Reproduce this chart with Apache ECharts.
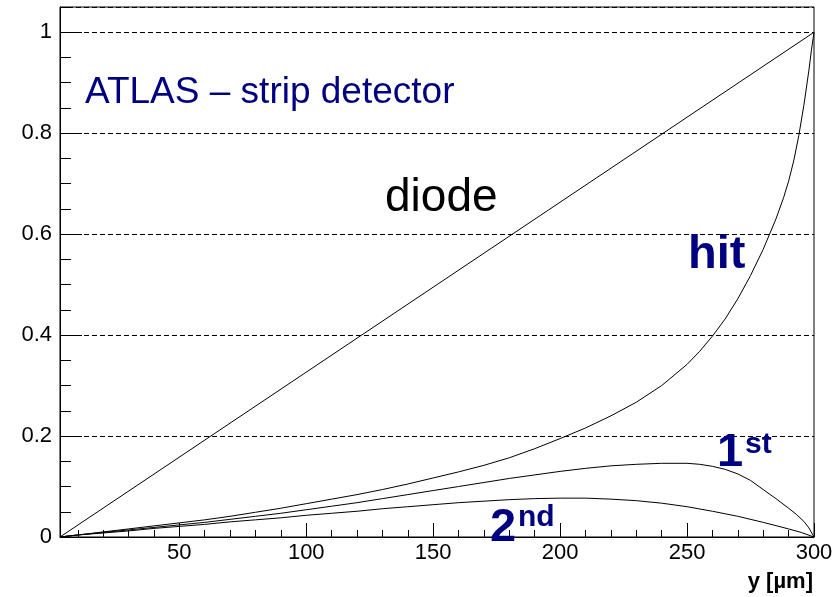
<!DOCTYPE html>
<html>
<head>
<meta charset="utf-8">
<script src="https://cdn.jsdelivr.net/npm/echarts@6/dist/echarts.min.js"></script>
<style>html,body{margin:0;padding:0;background:#fff}#c{width:836px;height:597px}</style>
</head>
<body>
<div id="c"></div>
<script>
// x positions (µm) and values
const diodeX = [3, 300];
const diodeY = [0, 1];
const hitX = [3,10,20,30,40,50,60,70,80,90,100,110,120,130,140,150,160,170,180,190,200,210,220,230,240,250,255,260,265,270,275,280,285,288,290,292,294,296,298,299,300];
const hitY = [0,0.004,0.010,0.016,0.022,0.028,0.034,0.041,0.049,0.057,0.066,0.075,0.084,0.094,0.105,0.117,0.129,0.142,0.157,0.175,0.195,0.216,0.240,0.267,0.300,0.342,0.368,0.398,0.432,0.472,0.518,0.570,0.630,0.672,0.705,0.745,0.795,0.855,0.925,0.965,1.0];
const firstX = [3,10,20,30,40,50,60,70,80,90,100,110,120,130,140,150,160,170,180,190,200,210,220,230,240,250,255,260,265,270,275,280,285,290,293,296,298,300];
const firstY = [0,0.004,0.009,0.014,0.019,0.024,0.029,0.035,0.041,0.047,0.054,0.061,0.068,0.076,0.084,0.092,0.100,0.108,0.116,0.123,0.130,0.136,0.141,0.144,0.146,0.146,0.144,0.140,0.134,0.125,0.112,0.094,0.076,0.057,0.045,0.031,0.018,0];
const secondX = [3,10,20,30,40,50,60,70,80,90,100,110,120,130,140,150,160,170,180,190,200,210,220,230,240,250,260,270,280,290,295,300];
const secondY = [0,0.004,0.008,0.012,0.017,0.021,0.025,0.030,0.034,0.038,0.043,0.047,0.051,0.056,0.060,0.064,0.068,0.071,0.074,0.076,0.077,0.077,0.075,0.072,0.067,0.060,0.051,0.041,0.029,0.016,0.009,0];
const xMajorTicks = [50,100,150,200,250,300];
const xMinorTicks = [10,20,30,40,60,70,80,90,110,120,130,140,160,170,180,190,210,220,230,240,260,270,280,290];

const zip = (xs, ys) => xs.map((x, i) => [x, ys[i]]);
const FONT = 'Liberation Sans';
const NAVY = '#000080';

const chart = echarts.init(document.getElementById('c'));
const lineSeries = (name, data) => ({
  name, type: 'line', data, showSymbol: false, symbol: 'none', clip: true,
  lineStyle: { color: '#000', width: 1 }, xAxisIndex: 0, yAxisIndex: 0, animation: false
});
chart.setOption({
  animation: false,
  grid: { left: 60, top: 7, right: 22, bottom: 60, show: true, borderColor: '#000', borderWidth: 1, backgroundColor: 'transparent' },
  xAxis: [
    { type: 'value', min: 3, max: 300,
      axisLine: { show: true, lineStyle: { color: '#000', width: 1 } },
      axisTick: { show: true, inside: true, length: 14, customValues: xMajorTicks, lineStyle: { color: '#000', width: 1 } },
      axisLabel: { show: true, customValues: xMajorTicks, color: '#000', fontSize: 22, fontFamily: FONT, margin: 5 },
      splitLine: { show: false } },
    { type: 'value', min: 3, max: 300, position: 'bottom',
      axisLine: { show: false },
      axisTick: { show: true, inside: true, length: 7, customValues: xMinorTicks, lineStyle: { color: '#000', width: 1 } },
      axisLabel: { show: false }, splitLine: { show: false } }
  ],
  yAxis: [
    { type: 'value', min: 0, max: 1.05, interval: 0.2,
      axisLine: { show: true, lineStyle: { color: '#000', width: 1 } },
      axisTick: { show: true, inside: true, length: 22, lineStyle: { color: '#000', width: 1 } },
      axisLabel: { color: '#000', fontSize: 22, fontFamily: FONT, margin: 8, showMaxLabel: false,
        formatter: v => (Math.abs(v * 5 - Math.round(v * 5)) < 1e-6 ? String(Math.round(v * 5) / 5) : '') },
      splitLine: { show: true, lineStyle: { color: '#000', width: 1, type: [5, 3] } } },
    { type: 'value', min: 0, max: 1.05, interval: 0.05, position: 'left',
      axisLine: { show: false },
      axisTick: { show: true, inside: true, length: 11, lineStyle: { color: '#000', width: 1 } },
      axisLabel: { show: false }, splitLine: { show: false } }
  ],
  series: [
    lineSeries('diode', zip(diodeX, diodeY)),
    lineSeries('hit', zip(hitX, hitY)),
    lineSeries('1st', zip(firstX, firstY)),
    lineSeries('2nd', zip(secondX, secondY))
  ],
  graphic: [
    { type: 'text', z: 100, style: { text: 'ATLAS – strip detector', x: 85, y: 93, font: '37px "Liberation Sans"', fill: NAVY, verticalAlign: 'middle' } },
    { type: 'text', z: 100, style: { text: 'diode', x: 385, y: 198, font: '46px "Liberation Sans"', fill: '#000', verticalAlign: 'middle' } },
    { type: 'text', z: 100, style: { text: 'hit', x: 688, y: 255, font: 'bold 47px "Liberation Sans"', fill: NAVY, verticalAlign: 'middle' } },
    { type: 'text', z: 100, style: { text: '1', x: 717, y: 453, font: 'bold 47px "Liberation Sans"', fill: NAVY, verticalAlign: 'middle' } },
    { type: 'text', z: 100, style: { text: 'st', x: 745, y: 445, font: 'bold 30px "Liberation Sans"', fill: NAVY, verticalAlign: 'middle' } },
    { type: 'text', z: 100, style: { text: '2', x: 490, y: 528, font: 'bold 47px "Liberation Sans"', fill: NAVY, verticalAlign: 'middle' } },
    { type: 'text', z: 100, style: { text: 'nd', x: 518, y: 518, font: 'bold 30px "Liberation Sans"', fill: NAVY, verticalAlign: 'middle' } },
    { type: 'text', z: 100, style: { text: 'y [µm]', x: 813, y: 582, font: 'bold 22px "Liberation Sans"', fill: '#000', align: 'right', verticalAlign: 'middle' } }
  ]
});
</script>
</body>
</html>
